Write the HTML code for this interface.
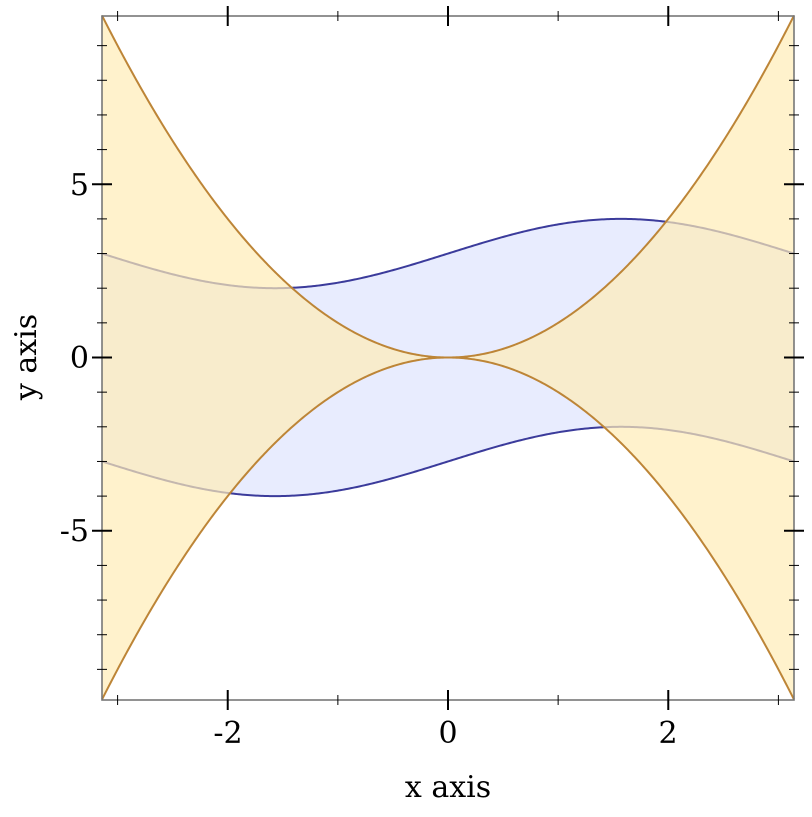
<!DOCTYPE html>
<html><head><meta charset="utf-8"><style>
html,body{margin:0;padding:0;background:#fff;}
svg text{font-family:"DejaVu Serif","Liberation Serif",serif;font-size:30px;fill:#000;}
</style></head><body>
<svg id="s" width="812" height="812" xmlns="http://www.w3.org/2000/svg">
<g id="g"></g>
<rect x="102" y="16" width="692" height="684" fill="none" stroke="#777" stroke-width="1.6"/>
<g id="t" stroke="#000"></g>
<text x="228" y="743" text-anchor="middle">-2</text>
<text x="448" y="743" text-anchor="middle">0</text>
<text x="668" y="743" text-anchor="middle">2</text>
<text x="89" y="195" text-anchor="end">5</text>
<text x="89" y="368" text-anchor="end">0</text>
<text x="89" y="541" text-anchor="end">-5</text>
<text x="448" y="797" text-anchor="middle">x axis</text>
<text transform="translate(36,357) rotate(-90)" text-anchor="middle">y axis</text>
</svg>
<script>
var PI=Math.PI,Y0=357.5,SY=684/(2*PI*PI);
function X(x){return 448+x*692/(2*PI);}
function Yp(y){return Y0-y*SY;}
function pts(f,rev){var a=[];for(var i=0;i<=400;i++){var x=-PI+2*PI*i/400;a.push(X(x).toFixed(2)+","+Yp(f(x)).toFixed(2));}if(rev)a.reverse();return a;}
function band(f1,f2,fill,op){return '<path d="M'+pts(f1).join(" L")+" L"+pts(f2,1).join(" L")+'Z" fill="'+fill+'" fill-opacity="'+op+'"/>';}
function line(f,c){return '<path d="M'+pts(f).join(" L")+'" fill="none" stroke="'+c+'" stroke-width="2"/>';}
var s1=function(x){return Math.sin(x)+3},s2=function(x){return Math.sin(x)-3},q1=function(x){return x*x},q2=function(x){return -x*x};
var h=band(s1,s2,"rgb(232,236,254)",1)+line(s1,"#3b3b9b")+line(s2,"#3b3b9b")+band(q1,q2,"rgb(255,236,182)",0.7)+line(q1,"#bd8537")+line(q2,"#bd8537");
document.getElementById("g").innerHTML=h;
var t="";
function ln(a,b,c,d,w){return '<line x1="'+a+'" y1="'+b+'" x2="'+c+'" y2="'+d+'" stroke-width="'+w+'"/>';}
for(var i=-3;i<=3;i++){var x=X(i),M=(i%2==0),L=M?10:5,w=M?2:1;t+=ln(x,700-L,x,700+L,w)+ln(x,16-L,x,16+L,w);}
for(var j=-9;j<=9;j++){var y=Yp(j),M=(j%5==0),L=M?10:5,w=M?2:1;t+=ln(102-L,y,102+L,y,w)+ln(794-L,y,794+L,y,w);}
document.getElementById("t").innerHTML=t;
</script>
</body></html>
